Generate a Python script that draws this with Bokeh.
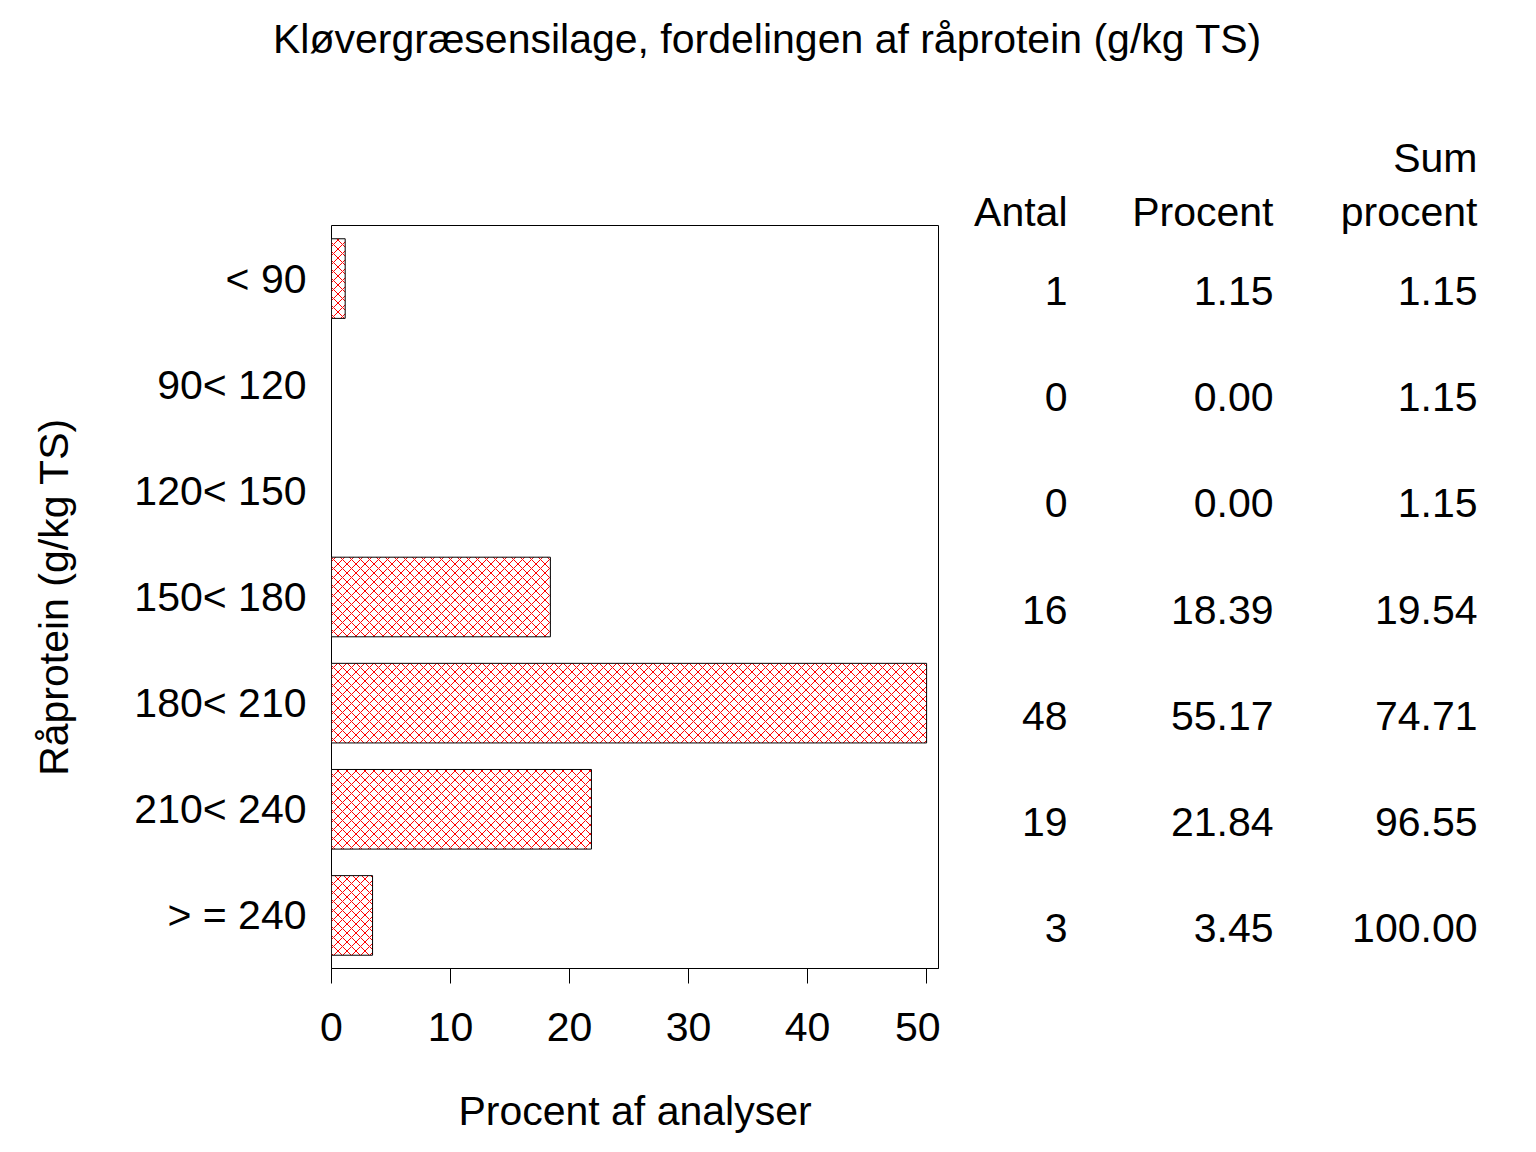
import numpy as np
from bokeh.plotting import figure
from bokeh.models import Range1d, FixedTicker
from bokeh.layouts import column, row
from bokeh.core.properties import value
from bokeh.embed import file_html
from bokeh.resources import INLINE

# ---- data ----
categories = ["< 90", "90< 120", "120< 150", "150< 180", "180< 210", "210< 240", "> = 240"]
antal = [1, 0, 0, 16, 48, 19, 3]
procent = [1.15, 0.00, 0.00, 18.39, 55.17, 21.84, 3.45]
sum_procent = [1.15, 1.15, 1.15, 19.54, 74.71, 96.55, 100.00]
x_ticks = [0, 10, 20, 30, 40, 50]
title_text = "Kløvergræsensilage, fordelingen af råprotein (g/kg TS)"
col_headers = ["Antal", "Procent", "Sum\nprocent"]

FONT = "Liberation Sans"
FS = "41px"
AXIS_MAX = 50

n = len(categories)
ypos = [n - i - 0.5 for i in range(n)]
bar_right = list(np.minimum(procent, AXIS_MAX))

# ---- layout constants (page pixels) ----
TOTAL_W, TOTAL_H = 1520, 1136
TITLE_H = 100
FRAME_L, FRAME_R, FRAME_T, FRAME_B = 331, 938, 225, 969
PLOT_W = FRAME_R + 2
px_per_y = (FRAME_B - FRAME_T) / n

def dy(sy):
    return (FRAME_B - sy) / px_per_y

def strip(fig):
    fig.axis.visible = False
    fig.grid.visible = False
    fig.outline_line_color = None
    fig.background_fill_color = "white"
    fig.border_fill_color = "white"
    fig.frame_align = False

# ---- title figure ----
tf = figure(width=TOTAL_W, height=TITLE_H, output_backend="svg", toolbar_location=None,
            x_range=Range1d(0, TOTAL_W), y_range=Range1d(TITLE_H, 0),
            min_border=0, min_border_left=0, min_border_right=0,
            min_border_top=0, min_border_bottom=0)
strip(tf)
tf.text(x=[767], y=[38], text=[title_text], text_font=value(FONT),
        text_font_size=FS, text_align="center", text_baseline="alphabetic",
        text_color="black")

# ---- bar chart ----
PLOT_H = TOTAL_H - TITLE_H
p = figure(width=PLOT_W, height=PLOT_H, output_backend="svg", toolbar_location=None,
           x_range=Range1d(0, 51.0), y_range=Range1d(0, n),
           min_border_left=FRAME_L, min_border_right=PLOT_W - FRAME_R,
           min_border_top=FRAME_T - TITLE_H, min_border_bottom=TOTAL_H - FRAME_B)
p.frame_align = False
p.background_fill_color = "white"
p.border_fill_color = "white"
p.outline_line_color = "black"
p.outline_line_width = 1
p.grid.visible = False

p.hbar(y=ypos, right=bar_right, left=0, height=0.75,
       fill_color="white", line_color="black", line_width=1,
       hatch_pattern="diagonal_cross", hatch_color="red", hatch_scale=9, hatch_weight=1)

xa = p.xaxis[0]
xa.ticker = FixedTicker(ticks=x_ticks)
xa.minor_tick_line_color = None
xa.major_tick_in = 0
xa.major_tick_out = 15
xa.major_tick_line_color = "black"
xa.axis_line_color = "black"
xa.major_label_text_font = FONT
xa.major_label_text_font_size = FS
xa.major_label_text_color = "black"
xa.major_label_standoff = 29
xa.axis_label = "Procent af analyser"
xa.axis_label_text_font = FONT
xa.axis_label_text_font_size = FS
xa.axis_label_text_color = "black"
xa.axis_label_text_font_style = "normal"
xa.axis_label_standoff = 44

ya = p.yaxis[0]
ya.ticker = FixedTicker(ticks=ypos)
ya.major_label_overrides = {y: c for y, c in zip(ypos, categories)}
ya.minor_tick_line_color = None
ya.major_tick_line_color = None
ya.major_tick_in = 0
ya.major_tick_out = 0
ya.axis_line_color = None
ya.major_label_text_font = FONT
ya.major_label_text_font_size = FS
ya.major_label_text_color = "black"
ya.major_label_standoff = 25
ya.axis_label = "Råprotein (g/kg TS)"
ya.axis_label_text_font = FONT
ya.axis_label_text_font_size = FS
ya.axis_label_text_color = "black"
ya.axis_label_text_font_style = "normal"
ya.axis_label_standoff = 54

# ---- table figure (shares the bar chart's vertical scale) ----
TAB_W = TOTAL_W - PLOT_W
t = figure(width=TAB_W, height=PLOT_H, output_backend="svg", toolbar_location=None,
           x_range=Range1d(PLOT_W, TOTAL_W), y_range=Range1d(dy(TOTAL_H), dy(TITLE_H)),
           min_border=0, min_border_left=0, min_border_right=0,
           min_border_top=0, min_border_bottom=0)
strip(t)

col_right = [1067, 1273, 1477]
ROW_SHIFT = 12 / px_per_y      # text baseline below category centre
HEADER_Y = dy(211)
LINE_GAP = 54 / px_per_y

cols = [[str(a) for a in antal],
        ["%.2f" % v for v in procent],
        ["%.2f" % v for v in sum_procent]]
xs, ys, txt = [], [], []
for c in range(3):
    for i in range(n):
        xs.append(col_right[c]); ys.append(ypos[i] - ROW_SHIFT); txt.append(cols[c][i])
    lines = col_headers[c].split("\n")
    for k, line in enumerate(reversed(lines)):
        xs.append(col_right[c]); ys.append(HEADER_Y + k * LINE_GAP); txt.append(line)

t.text(x=xs, y=ys, text=txt, text_font=value(FONT), text_font_size=FS,
       text_align="right", text_baseline="alphabetic", text_color="black")

layout = column(tf, row(p, t, spacing=0), spacing=0)
open("out.html", "w").write(file_html(layout, INLINE))
